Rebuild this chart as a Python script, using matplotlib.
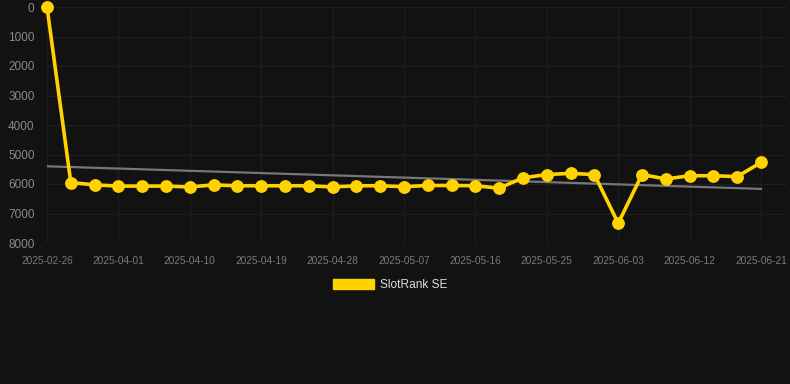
import numpy as np
import matplotlib
matplotlib.use("Agg")
import matplotlib.pyplot as plt
from matplotlib.patches import Patch

plt.rcParams['font.family'] = ['Liberation Sans', 'DejaVu Sans']

# data (rank, lower is better)
dates = ["2025-02-26", "2025-03-26", "2025-03-29", "2025-04-01", "2025-04-04",
         "2025-04-07", "2025-04-10", "2025-04-13", "2025-04-16", "2025-04-19",
         "2025-04-22", "2025-04-25", "2025-04-28", "2025-05-01", "2025-05-04",
         "2025-05-07", "2025-05-10", "2025-05-13", "2025-05-16", "2025-05-19",
         "2025-05-22", "2025-05-25", "2025-05-28", "2025-05-31", "2025-06-03",
         "2025-06-06", "2025-06-09", "2025-06-12", "2025-06-15", "2025-06-18",
         "2025-06-21"]
rank = [0, 5950, 6030, 6070, 6070, 6070, 6100, 6030, 6060, 6060,
        6060, 6060, 6100, 6060, 6060, 6090, 6050, 6050, 6060, 6140,
        5790, 5680, 5640, 5680, 7330, 5680, 5830, 5720, 5720, 5750,
        5270]
series_name = "SlotRank SE"

BG = "#121212"
GOLD = "#FFD200"
GRID = "#1e1e1e"

x = np.arange(len(dates))
# linear trend through the series
slope, icpt = np.polyfit(x, rank, 1)
trend = slope * x + icpt

fig = plt.figure(figsize=(7.9, 3.84), dpi=100, facecolor=BG)
W, H = 790, 384
ax = fig.add_axes([47 / W, (H - 243) / H, (787 - 47) / W, (243 - 7) / H])
ax.set_facecolor(BG)

ax.plot(x, trend, color="#777777", lw=1.6, zorder=2)
ax.plot(x, rank, color=GOLD, lw=2.6, marker="o", markersize=8.2,
        markerfacecolor=GOLD, markeredgecolor=GOLD, zorder=3, clip_on=False)

ax.set_ylim(8000, 0)
ax.set_xlim(0, 30 + 26 / 23.8)
ax.set_yticks(range(0, 8001, 1000))
ax.set_xticks(x[::3])
ax.set_xticklabels(dates[::3])

ax.grid(True, color=GRID, lw=0.9)
ax.set_axisbelow(True)
for s in ax.spines.values():
    s.set_visible(False)
ax.tick_params(axis="y", length=0, pad=9, labelsize=8.5, labelcolor="#8a8a8a")
ax.tick_params(axis="x", length=0, pad=9, labelsize=7.3, labelcolor="#7a7a7a")

fig.legend(handles=[Patch(facecolor=GOLD, edgecolor=GOLD)], labels=[series_name],
           loc="center", bbox_to_anchor=(390 / W, (H - 285) / H), frameon=False,
           fontsize=8.6, labelcolor="#dddddd", handlelength=3.4, handleheight=1.0,
           handletextpad=0.5)

fig.savefig("out.png", dpi=100, facecolor=BG)
